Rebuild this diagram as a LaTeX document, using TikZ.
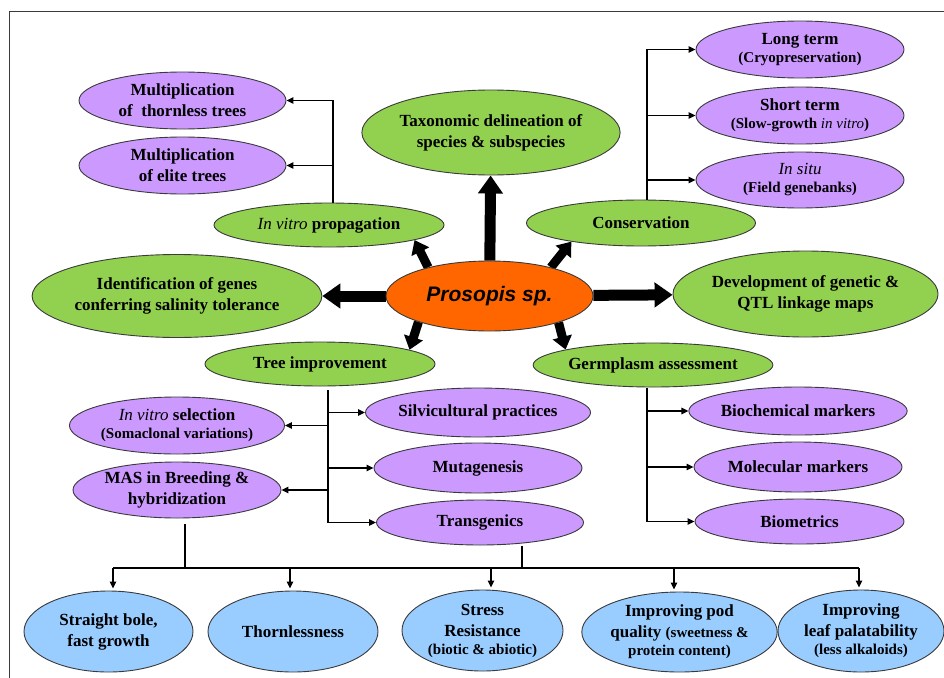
\documentclass[tikz,border=0pt]{standalone}
\usepackage{fontspec}
\setmainfont{Liberation Serif}
\newfontfamily\arialfont{Liberation Sans}
\usetikzlibrary{shapes.geometric,arrows.meta,backgrounds}
\definecolor{purp}{HTML}{CC99FF}
\definecolor{grn}{HTML}{92D050}
\definecolor{blu}{HTML}{99CCFF}
\definecolor{org}{HTML}{FF6600}
\definecolor{edge}{HTML}{3A3A3A}
\newcommand\mfont{\fontsize{17}{21}\selectfont\bfseries}
\newcommand\smfont{\fontsize{15}{18}\selectfont\bfseries}
\newcommand\itl[1]{\textit{\mdseries #1}}
\tikzset{
  ell/.style={ellipse, draw=edge, line width=0.9pt, inner sep=0pt, align=center, font=\mfont},
  pur/.style={ell, fill=purp},
  grn/.style={ell, fill=grn},
  blu/.style={ell, fill=blu},
  conn/.style={line width=1.3pt, -{Triangle[width=6.5pt,length=7pt]}},
  plain/.style={line width=1.3pt},
  bigarrow/.style={line width=11pt, -{Triangle[width=24pt,length=18pt]}},
  midarrow/.style={line width=9pt, -{Triangle[width=19pt,length=13pt]}}
}
\begin{document}
\begin{tikzpicture}[x=1pt,y=-1pt]
\useasboundingbox (0,0) rectangle (944,677);
\draw[edge, line width=1pt] (9,700) -- (9,12) -- (960,12);

% top-left
\node[pur, minimum width=207pt, minimum height=57pt] (mt) at (182.5,100.5) {Multiplication\\of\ \ thornless trees};
\node[pur, minimum width=207pt, minimum height=57pt] (me) at (182.5,165.5) {Multiplication\\of elite trees};
\node[grn, minimum width=230pt, minimum height=44pt] (ivp) at (329,225) {\itl{In vitro} propagation};
\node[grn, minimum width=246pt, minimum height=85pt] (tax) at (491,132.5) {Taxonomic delineation of\\species \& subspecies};
\node[grn, minimum width=244pt, minimum height=83pt] (id) at (177,296) {Identification of genes\\conferring salinity tolerance};
\node[ell, fill=org, minimum width=207pt, minimum height=70pt, font=\arialfont\fontsize{21}{25}\selectfont\bfseries\itshape] (P) at (489.5,296) {Prosopis sp.};
\node[grn, minimum width=253pt, minimum height=86pt] (dev) at (805.5,294) {Development of genetic \&\\QTL linkage maps};
\node[grn, minimum width=229pt, minimum height=46pt] (cons) at (641,223) {Conservation};
\node[pur, minimum width=208pt, minimum height=57pt] (lt) at (800,49.5) {Long term\\[-3pt]{\smfont(Cryopreservation)}};
\node[pur, minimum width=208pt, minimum height=57pt] (st) at (800,115.5) {Short term\\[-3pt]{\smfont(Slow-growth \itl{in vitro})}};
\node[pur, minimum width=208pt, minimum height=56pt] (is) at (800,180) {\itl{In situ}\\[-3pt]{\smfont(Field genebanks)}};

% middle
\node[grn, minimum width=230pt, minimum height=44pt] (ti) at (320,364) {Tree improvement};
\node[grn, minimum width=230pt, minimum height=44pt] (ga) at (653,365) {Germplasm assessment};
\node[pur, minimum width=208pt, minimum height=57pt] (ivs) at (177,425.5) {\itl{In vitro} selection\\[-3pt]{\smfont(Somaclonal variations)}};
\node[pur, minimum width=208pt, minimum height=56pt] (mas) at (177,490) {MAS in Breeding \&\\hybridization};
\node[pur, minimum width=208pt, minimum height=49pt] (sil) at (478,412.5) {Silvicultural practices};
\node[pur, minimum width=208pt, minimum height=50pt] (mut) at (478,468) {Mutagenesis};
\node[pur, minimum width=207pt, minimum height=45pt] (tra) at (480,522.5) {Transgenics};
\node[pur, minimum width=208pt, minimum height=48pt] (bio) at (798,411) {Biochemical markers};
\node[pur, minimum width=208pt, minimum height=50pt] (mol) at (798,467) {Molecular markers};
\node[pur, minimum width=209pt, minimum height=45pt] (bm) at (799.5,521.5) {Biometrics};

% bottom
\node[blu, minimum width=169pt, minimum height=81pt] (sb) at (108.5,631.5) {Straight bole,\\fast growth};
\node[blu, minimum width=170pt, minimum height=81pt] (th) at (293,631.5) {Thornlessness};
\node[blu, minimum width=161pt, minimum height=81pt] (sr) at (482.5,630.5) {Stress\\Resistance\\[-3pt]{\smfont(biotic \& abiotic)}};
\node[blu, minimum width=169pt, minimum height=80pt] (pod) at (679.5,632) {Improving pod\\quality {\smfont(sweetness \&}\\[-3pt]{\smfont protein content)}};
\node[blu, minimum width=166pt, minimum height=82pt] (leaf) at (861,631) {Improving\\leaf palatability\\[-3pt]{\smfont(less alkaloids)}};

% thick arrows from the centre
\begin{pgfonlayer}{background}
\draw[bigarrow] (P) -- (tax);
\draw[bigarrow] (P) -- (id);
\draw[bigarrow] (P) -- (dev);
\draw[midarrow] (P.155) -- (ivp.-10);
\draw[midarrow] (P.25) -- (cons.195);
\draw[midarrow] (P.200) -- (ti.9);
\draw[midarrow] (P.-21) -- (ga.170);
\end{pgfonlayer}

% branch points
\coordinate (ivb) at (333,203);
\coordinate (cb) at (647,200);
\coordinate (tb) at (328,390);
\coordinate (gb) at (647,388);
\coordinate (m1) at (185,524);
\coordinate (t1) at (522,546);
\coordinate (hl) at (113,568);
\coordinate (hr) at (859,568);
\coordinate (d2) at (290,568);
\coordinate (d3) at (491,568);
\coordinate (d4) at (674,568);

\draw[conn] (ivb) |- (mt.east);
\draw[conn] (ivb) |- (me.east);
\draw[conn] (cb) |- (lt.west);
\draw[conn] (cb) |- (st.west);
\draw[conn] (cb) |- (is.west);

\draw[conn] (tb) |- (tra.west);
\draw[conn] (tb |- sil.west) -- (sil.west);
\draw[conn] (tb |- mut.west) -- (mut.west);
\draw[conn] (tb |- ivs.east) -- (ivs.east);
\draw[conn] (tb |- mas.east) -- (mas.east);

\draw[conn] (gb) |- (bm.west);
\draw[conn] (gb |- bio.west) -- (bio.west);
\draw[conn] (gb |- mol.west) -- (mol.west);

\draw[plain] (m1) -- (m1 |- hl);
\draw[plain] (t1) -- (t1 |- hl);
\draw[plain] (hl) -- (hr);
\draw[conn, shorten >=2pt] (hl) -- (hl |- sb.north);
\draw[conn, shorten >=2pt] (d2) -- (d2 |- th.north);
\draw[conn, shorten >=2pt] (d3) -- (d3 |- sr.north);
\draw[conn, shorten >=2pt] (d4) -- (d4 |- pod.north);
\draw[conn, shorten >=2pt] (hr) -- (hr |- leaf.north);
\end{tikzpicture}
\end{document}
